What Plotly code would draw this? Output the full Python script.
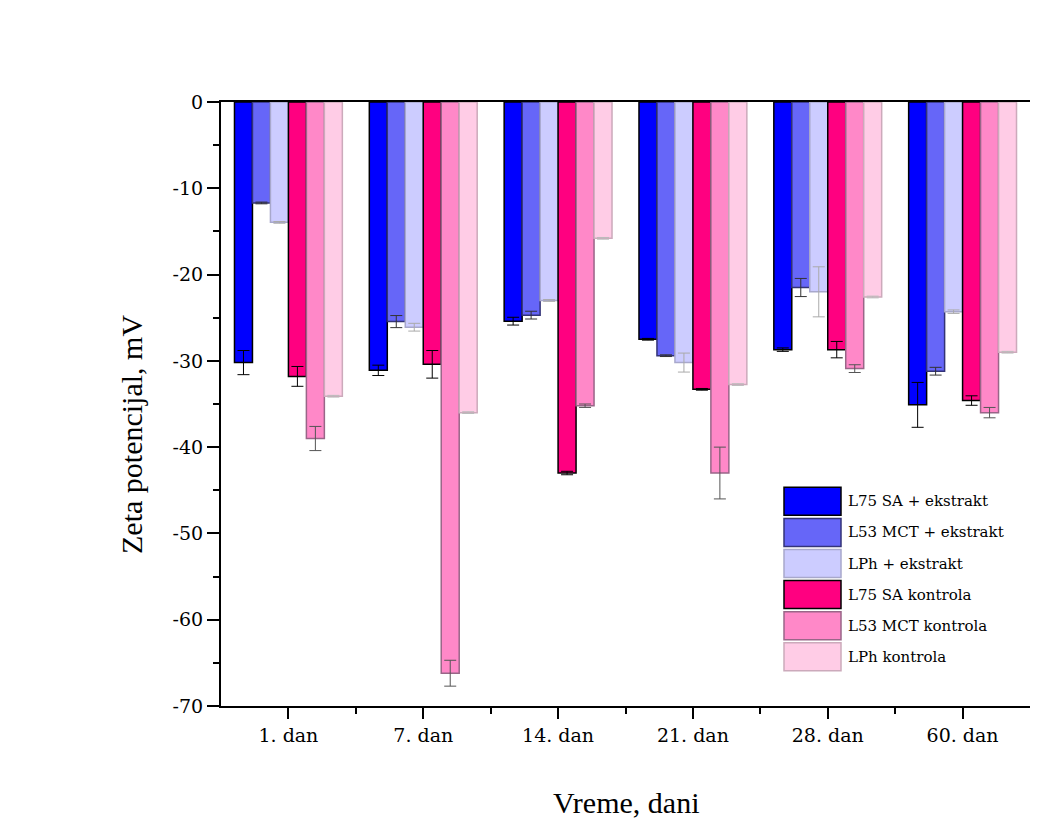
import plotly.graph_objects as go

categories = ["1. dan", "7. dan", "14. dan", "21. dan", "28. dan", "60. dan"]
series_names = ["L75 SA + ekstrakt", "L53 MCT + ekstrakt", "LPh + ekstrakt",
                "L75 SA kontrola", "L53 MCT kontrola", "LPh kontrola"]

l75_ext = [-30.2, -31.1, -25.4, -27.5, -28.7, -35.1]
l53_ext = [-11.7, -25.45, -24.7, -29.4, -21.5, -31.2]
lph_ext = [-13.95, -26.1, -23.0, -30.2, -22.0, -24.3]
l75_kon = [-31.8, -30.4, -43.0, -33.3, -28.7, -34.6]
l53_kon = [-39.0, -66.2, -35.2, -43.0, -30.9, -36.0]
lph_kon = [-34.1, -36.0, -15.8, -32.75, -22.6, -29.0]

l75_ext_err = [1.4, 0.6, 0.45, 0.1, 0.2, 2.6]
l53_ext_err = [0.1, 0.7, 0.45, 0.1, 1.05, 0.45]
lph_ext_err = [0.1, 0.45, 0.1, 1.1, 2.9, 0.2]
l75_kon_err = [1.15, 1.6, 0.2, 0.1, 0.95, 0.55]
l53_kon_err = [1.4, 1.5, 0.2, 3.0, 0.45, 0.6]
lph_kon_err = [0.1, 0.1, 0.1, 0.1, 0.1, 0.1]

y_ticks = [0, -10, -20, -30, -40, -50, -60, -70]
y_ticktext = ["0", "-10", "-20", "-30", "-40", "-50", "-60", "-70"]

values = [l75_ext, l53_ext, lph_ext, l75_kon, l53_kon, lph_kon]
errors = [l75_ext_err, l53_ext_err, lph_ext_err, l75_kon_err, l53_kon_err, lph_kon_err]
fills = ["#0000FF", "#6666F8", "#CCCCFF", "#FF0080", "#FF88C8", "#FFCCE6"]
lines = ["#000000", "#333377", "#A8A8CC", "#000000", "#996688", "#CCAABB"]
errcols = ["#000000", "#333333", "#AAAAAA", "#000000", "#555555", "#BBBBBB"]

xpos = list(range(len(categories)))

fig = go.Figure()
for name, v, e, fc, lc, ec in zip(series_names, values, errors, fills, lines, errcols):
    fig.add_trace(go.Bar(
        x=xpos, y=v, name=name,
        marker=dict(color=fc, line=dict(color=lc, width=1.5)),
        error_y=dict(type="data", array=e, visible=True, color=ec, thickness=1, width=6),
        showlegend=False,
    ))

# page offset (default body margin) and plot area in window pixels
OFF = 8
L, R, T, B = 221, 1030, 102, 706
W, H = 1062 - 2 * OFF, 835 - 2 * OFF

def px(xp):
    return (xp - L) / (R - L)

def py(yp):
    return (B - yp) / (B - T)

shapes = []
annotations = []
for i, (name, fc, lc) in enumerate(zip(series_names, fills, lines)):
    top = 487.3 + i * 31.1
    shapes.append(dict(type="rect", xref="paper", yref="paper",
                       x0=px(784), x1=px(841), y0=py(top + 28), y1=py(top),
                       fillcolor=fc, line=dict(color=lc, width=1.5)))
    annotations.append(dict(xref="paper", yref="paper", x=px(846), y=py(top + 14),
                            text=name, showarrow=False, xanchor="left", yanchor="middle",
                            font=dict(family="DejaVu Serif", size=15, color="black")))

# axis titles
annotations.append(dict(xref="paper", yref="paper", x=px(625.5), y=py(802),
                        text="Vreme, dani", showarrow=False, xanchor="center", yanchor="middle",
                        font=dict(family="Liberation Serif", size=30, color="black")))
annotations.append(dict(xref="paper", yref="paper", x=px(131), y=py(435),
                        text="Zeta potencijal, mV", showarrow=False, textangle=-90,
                        xanchor="center", yanchor="middle",
                        font=dict(family="Liberation Serif", size=30, color="black")))

fig.update_layout(
    width=W, height=H,
    margin=dict(l=L - OFF, r=W - (R - OFF), t=T - OFF, b=H - (B - OFF), pad=0),
    barmode="group", bargap=0.2, bargroupgap=0,
    plot_bgcolor="white", paper_bgcolor="white",
    shapes=shapes, annotations=annotations,
    xaxis=dict(
        range=[-0.5, 5.5], tickmode="array", tickvals=xpos, ticktext=categories,
        ticks="outside", ticklen=11, tickwidth=2, tickcolor="black",
        showline=True, linecolor="black", linewidth=2, mirror=True,
        showgrid=False, zeroline=False,
        tickfont=dict(family="DejaVu Serif", size=19, color="black"),
        minor=dict(tickmode="array", tickvals=[0.5, 1.5, 2.5, 3.5, 4.5],
                   ticks="outside", ticklen=6, tickwidth=2, tickcolor="black", showgrid=False),
    ),
    yaxis=dict(
        range=[-70, 0], tickmode="array", tickvals=y_ticks, ticktext=y_ticktext,
        ticks="outside", ticklen=12, tickwidth=2, tickcolor="black",
        showline=True, linecolor="black", linewidth=2,
        showgrid=False, zeroline=False,
        tickfont=dict(family="DejaVu Serif", size=19, color="black"),
        minor=dict(tickmode="array", tickvals=[-5, -15, -25, -35, -45, -55, -65],
                   ticks="outside", ticklen=6, tickwidth=2, tickcolor="black", showgrid=False),
    ),
)

fig.write_html("out.html")
